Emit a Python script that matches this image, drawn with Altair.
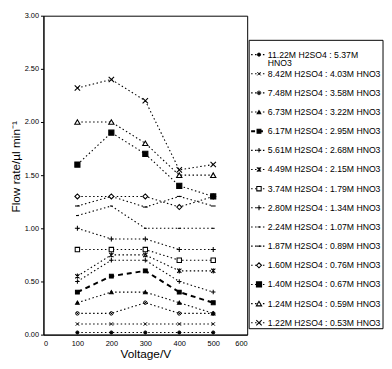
import altair as alt
import pandas as pd

voltages = [100, 200, 300, 400, 500]

series = [
    "11.22M H2SO4 : 5.37M HNO3",
    "8.42M H2SO4 : 4.03M HNO3",
    "7.48M H2SO4 : 3.58M HNO3",
    "6.73M H2SO4 : 3.22M HNO3",
    "6.17M H2SO4 : 2.95M HNO3",
    "5.61M H2SO4 : 2.68M HNO3",
    "4.49M H2SO4 : 2.15M HNO3",
    "3.74M H2SO4 : 1.79M HNO3",
    "2.80M H2SO4 : 1.34M HNO3",
    "2.24M H2SO4 : 1.07M HNO3",
    "1.87M H2SO4 : 0.89M HNO3",
    "1.60M H2SO4 : 0.76M HNO3",
    "1.40M H2SO4 : 0.67M HNO3",
    "1.24M H2SO4 : 0.59M HNO3",
    "1.22M H2SO4 : 0.53M HNO3",
]

legend_labels = ["11.22M H2SO4 : 5.37M\nHNO3"] + series[1:]

flow_11_22 = [0.02, 0.02, 0.02, 0.02, 0.02]
flow_8_42 = [0.10, 0.10, 0.10, 0.10, 0.10]
flow_7_48 = [0.20, 0.20, 0.30, 0.20, 0.20]
flow_6_73 = [0.30, 0.40, 0.40, 0.30, 0.20]
flow_6_17 = [0.40, 0.55, 0.60, 0.40, 0.30]
flow_5_61 = [0.50, 0.70, 0.70, 0.50, 0.40]
flow_4_49 = [0.55, 0.75, 0.75, 0.60, 0.60]
flow_3_74 = [0.80, 0.80, 0.80, 0.70, 0.70]
flow_2_80 = [1.00, 0.90, 0.90, 0.80, 0.80]
flow_2_24 = [1.12, 1.21, 1.00, 1.00, 1.00]
flow_1_87 = [1.21, 1.30, 1.20, 1.30, 1.21]
flow_1_60 = [1.30, 1.30, 1.30, 1.20, 1.30]
flow_1_40 = [1.60, 1.90, 1.70, 1.40, 1.30]
flow_1_24 = [2.00, 2.00, 1.80, 1.50, 1.50]
flow_1_22 = [2.32, 2.40, 2.20, 1.55, 1.60]

flows = [flow_11_22, flow_8_42, flow_7_48, flow_6_73, flow_6_17, flow_5_61,
         flow_4_49, flow_3_74, flow_2_80, flow_2_24, flow_1_87, flow_1_60,
         flow_1_40, flow_1_24, flow_1_22]

# marker styles (one per series)
X = "M-1,-1L1,1M1,-1L-1,1"
PLUS = "M-1.1,0L1.1,0M0,-1.1L0,1.1"
STAR = "M-1,-1L1,1M1,-1L-1,1M0,-1.2L0,1.2"
OX = "M-1,0A1,1 0 1,1 1,0A1,1 0 1,1 -1,0ZM-0.7,-0.7L0.7,0.7M0.7,-0.7L-0.7,0.7"
DASH_S = "M-0.6,0L0.6,0"
DASH_L = "M-1,0L1,0"

shapes = ["circle", X, OX, "triangle-up", "square", PLUS, STAR, "square", PLUS,
          DASH_S, DASH_L, "diamond", "square", "triangle-up", X]
fills = ["black", "white", "white", "black", "black", "white", "white", "white",
         "white", "white", "white", "white", "black", "white", "white"]
sizes = [10, 30, 36, 40, 32, 40, 36, 30, 40, 40, 40, 36, 32, 40, 30]
swidths = [1, 1.1, 1, 1, 1, 1.1, 1.1, 1, 1.1, 2, 2, 1, 1, 1, 1.1]

rows = []
for s, vals in zip(series, flows):
    for v, f in zip(voltages, vals):
        rows.append({"series": s, "voltage": v, "flow": f})
df = pd.DataFrame(rows)

leg = pd.DataFrame({"series": series, "label": legend_labels, "idx": list(range(len(series)))})

FONT = "Liberation Sans"
DASHED = "6.17M H2SO4 : 2.95M HNO3"

shape_enc = alt.Shape("series:N", scale=alt.Scale(domain=series, range=shapes), legend=None)
fill_enc = alt.Fill("series:N", scale=alt.Scale(domain=series, range=fills), legend=None)
size_enc = alt.Size("series:N", scale=alt.Scale(domain=series, range=sizes), legend=None)
sw_enc = alt.StrokeWidth("series:N", scale=alt.Scale(domain=series, range=swidths), legend=None)

xenc = alt.X("voltage:Q", scale=alt.Scale(domain=[0, 600], nice=False),
             axis=alt.Axis(values=[0, 100, 200, 300, 400, 500, 600], title="Voltage/V",
                           tickSize=0, labelPadding=5, titlePadding=2))
yenc = alt.Y("flow:Q", scale=alt.Scale(domain=[0, 3], nice=False),
             axis=alt.Axis(values=[0, 0.5, 1, 1.5, 2, 2.5, 3], format=".2f",
                           title="Flow rate/µl min⁻¹", tickSize=3, labelPadding=2,
                           titlePadding=2, titleY=153))

base = alt.Chart(df)
dotted = base.transform_filter(alt.datum.series != DASHED).mark_line(
    color="black", strokeDash=[1.5, 2.5], strokeWidth=1.1
).encode(x=xenc, y=yenc, detail="series:N")
dashed = base.transform_filter(alt.datum.series == DASHED).mark_line(
    color="black", strokeDash=[5, 4], strokeWidth=2
).encode(x=xenc, y=yenc)
pts = base.mark_point(stroke="black", opacity=1, fillOpacity=1).encode(
    x=xenc, y=yenc, shape=shape_enc, fill=fill_enc, size=size_enc, strokeWidth=sw_enc
)
main = alt.layer(dotted, dashed, pts).properties(
    width=207, height=324, view=alt.ViewBackground(stroke="black", strokeWidth=1)
)

# legend panel: same height as the plot; rows placed by index
ly = alt.Y("idx:Q", scale=alt.Scale(domain=[-2.03, 14.62], reverse=True, nice=False, zero=False), axis=None)
lbase = alt.Chart(leg)
frame = alt.Chart(pd.DataFrame({"box": [0]})).mark_rect(
    fill="white", stroke="black", strokeWidth=1
).encode(x=alt.value(0), x2=alt.value(136), y=alt.value(25), y2=alt.value(318))
lrule = lbase.transform_filter(alt.datum.series != DASHED).mark_rule(
    color="black", strokeDash=[1.5, 2.5], strokeWidth=1.1
).encode(x=alt.value(2), x2=alt.value(18), y=ly)
lrule2 = lbase.transform_filter(alt.datum.series == DASHED).mark_rule(
    color="black", strokeDash=[4, 4], strokeWidth=2
).encode(x=alt.value(2), x2=alt.value(18), y=ly)
lpts = lbase.mark_point(stroke="black", opacity=1, fillOpacity=1).encode(
    x=alt.value(10), y=ly, shape=shape_enc, fill=fill_enc, size=size_enc, strokeWidth=sw_enc
)
ltext = lbase.mark_text(align="left", baseline="middle", font=FONT, fontSize=8.8,
                        color="black", lineBreak="\n", lineHeight=9).encode(
    x=alt.value(19), y=ly, text="label:N"
)
legend_panel = alt.layer(frame, lrule, lrule2, lpts, ltext).properties(
    width=136, height=324, view=alt.ViewBackground(stroke=None)
)

chart = alt.hconcat(main, legend_panel, spacing=0).properties(
    padding={"left": 0, "top": 0, "right": 0, "bottom": 0}
).configure_axis(
    labelFont=FONT, titleFont=FONT, labelFontSize=7.5, titleFontSize=12,
    labelColor="black", titleColor="black", domainColor="black", tickColor="black",
    titleFontWeight="normal", grid=False
)

chart.save("out.html", embed_options={"renderer": "svg", "actions": False})
